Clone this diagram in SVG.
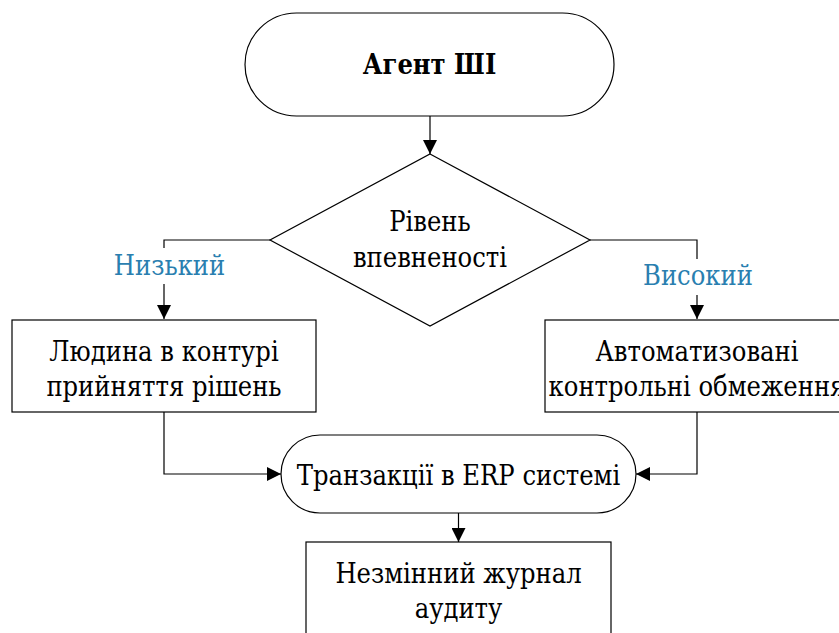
<svg xmlns="http://www.w3.org/2000/svg" width="839" height="633" viewBox="0 0 839 633">
  <style>
    .shape { fill: #ffffff; stroke: #000000; stroke-width: 1.2; }
    .link { fill: none; stroke: #000000; stroke-width: 1.2; }
    .txt { font-family: "DejaVu Serif Condensed", "DejaVu Serif", "Liberation Serif", serif; font-stretch: condensed; font-size: 27px; fill: #000000; text-anchor: middle; }
    .bold { font-weight: bold; }
    .lbl { font-family: "DejaVu Serif Condensed", "DejaVu Serif", "Liberation Serif", serif; font-stretch: condensed; font-size: 27px; fill: #2a7fb0; text-anchor: middle; }
  </style>
  <defs>
    <marker id="arrow" markerUnits="userSpaceOnUse" markerWidth="14" markerHeight="14" viewBox="0 0 14 14" refX="14" refY="7" orient="auto">
      <path d="M0,0 L14,7 L0,14 Z" fill="#000000"/>
    </marker>
  </defs>
  <rect width="839" height="633" fill="#ffffff"/>

  <!-- connectors -->
  <g id="connectors">
    <path class="link" d="M430,116 L430,154" marker-end="url(#arrow)"/>
    <path class="link" d="M270,240 L164,240 L164,319" marker-end="url(#arrow)"/>
    <path class="link" d="M590,240 L697,240 L697,319" marker-end="url(#arrow)"/>
    <path class="link" d="M164,412 L164,474 L281,474" marker-end="url(#arrow)"/>
    <path class="link" d="M697,412 L697,474 L636,474" marker-end="url(#arrow)"/>
    <path class="link" d="M458.5,513 L458.5,542" marker-end="url(#arrow)"/>
    <!-- branch labels sit on the vertical legs -->
    <rect x="112" y="248" width="116" height="36" fill="#ffffff"/>
    <text class="lbl" x="169.5" y="275">Низький</text>
    <rect x="642" y="259" width="112" height="36" fill="#ffffff"/>
    <text class="lbl" x="698" y="285">Високий</text>
  </g>

  <g id="agent">
    <rect class="shape" x="245" y="13" width="369" height="103" rx="51.5" ry="51.5"/>
    <text class="txt bold" x="429.5" y="74">Агент ШІ</text>
  </g>

  <g id="confidence">
    <polygon class="shape" points="430,154 590,240 430,326 270,240"/>
    <text class="txt" x="430" y="231">Рівень</text>
    <text class="txt" x="430" y="267">впевненості</text>
  </g>

  <g id="human-loop">
    <rect class="shape" x="12" y="320" width="304" height="92"/>
    <text class="txt" x="164" y="361">Людина в контурі</text>
    <text class="txt" x="164" y="396">прийняття рішень</text>
  </g>

  <g id="auto-limits">
    <rect class="shape" x="545" y="320" width="304" height="92"/>
    <text class="txt" x="697" y="361">Автоматизовані</text>
    <text class="txt" x="697" y="396">контрольні обмеження</text>
  </g>

  <g id="erp">
    <rect class="shape" x="281" y="435" width="355" height="78" rx="39" ry="39"/>
    <text class="txt" x="458.5" y="485">Транзакції в ERP системі</text>
  </g>

  <g id="audit-log">
    <rect class="shape" x="306" y="542" width="305" height="96"/>
    <text class="txt" x="458.5" y="583">Незмінний журнал</text>
    <text class="txt" x="458.5" y="618">аудиту</text>
  </g>
</svg>
